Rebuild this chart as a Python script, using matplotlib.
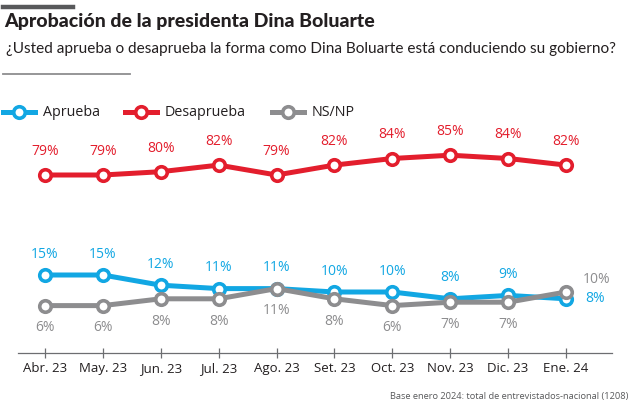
import matplotlib
matplotlib.use("Agg")
import matplotlib.pyplot as plt
from matplotlib.lines import Line2D

months = ["Abr. 23", "May. 23", "Jun. 23", "Jul. 23", "Ago. 23",
          "Set. 23", "Oct. 23", "Nov. 23", "Dic. 23", "Ene. 24"]
aprueba = [15, 15, 12, 11, 11, 10, 10, 8, 9, 8]
desaprueba = [79, 79, 80, 82, 79, 82, 84, 85, 84, 82]
nsnp = [6, 6, 8, 8, 11, 8, 6, 7, 7, 10]

BLUE = "#12a7e3"
RED = "#e31e2d"
GRAY = "#8d8d8f"
TXT = "#231f20"

W, H = 640, 407
fig = plt.figure(figsize=(W / 100, H / 100), dpi=100)

def box(x0, y0, x1, y1):
    return [x0 / W, 1 - y1 / H, (x1 - x0) / W, (y1 - y0) / H]

def fx(x):
    return x / W

def fy(y):
    return 1 - y / H

body = ["Open Sans", "DejaVu Sans"]
narrow = ["Lato", "DejaVu Sans"]

X0, X1 = 18, 612
xs = list(range(len(months)))
xlo = -(45 - X0) / 57.9
xhi = 9 + (X1 - 566) / 57.9

ax_top = fig.add_axes(box(X0, 120, X1, 210))
ax_bot = fig.add_axes(box(X0, 230, X1, 353))
for a in (ax_top, ax_bot):
    a.set_xlim(xlo, xhi)
    a.patch.set_alpha(0)
    for s in a.spines.values():
        s.set_visible(False)
ax_top.set_ylim(79 - (210 - 175) / 3.3, 79 + (175 - 120) / 3.3)
ax_bot.set_ylim(-(353 - 326) / 3.4, (326 - 230) / 3.4)
ax_top.set_xticks([])
ax_top.set_yticks([])
ax_bot.set_yticks([])
ax_bot.spines["bottom"].set_visible(True)
ax_bot.spines["bottom"].set_color("#6d6e71")
ax_bot.spines["bottom"].set_linewidth(0.9)
ax_bot.set_xticks(xs)
ax_bot.set_xticklabels(months, fontsize=9.5, color=TXT, family=body)
ax_bot.tick_params(axis="x", direction="inout", length=7, width=0.9,
                   color="#6d6e71", pad=3)

lw = 3.6
ms = 8.3
mew = 2.6

def series(a, vals, color, z):
    a.plot(xs, vals, color=color, lw=lw, marker="o", ms=ms, mew=mew,
           mfc="white", mec=color, clip_on=False, zorder=z,
           solid_joinstyle="round")

series(ax_top, desaprueba, RED, 3)
series(ax_bot, aprueba, BLUE, 3)
series(ax_bot, nsnp, GRAY, 4)

lab_fs = 10
for i, v in enumerate(desaprueba):
    ax_top.annotate(f"{v}%", (i, v), xytext=(0, 17), textcoords="offset points",
                    ha="center", va="center", color=RED, fontsize=lab_fs, family=body)
for i, v in enumerate(aprueba):
    if i == len(aprueba) - 1:
        ax_bot.annotate(f"{v}%", (i, v), xytext=(14, 0), textcoords="offset points",
                        ha="left", va="center", color=BLUE, fontsize=lab_fs, family=body)
    else:
        ax_bot.annotate(f"{v}%", (i, v), xytext=(0, 15), textcoords="offset points",
                        ha="center", va="center", color=BLUE, fontsize=lab_fs, family=body)
for i, v in enumerate(nsnp):
    if i == len(nsnp) - 1:
        ax_bot.annotate(f"{v}%", (i, v), xytext=(12, 9), textcoords="offset points",
                        ha="left", va="center", color=GRAY, fontsize=lab_fs, family=body)
    else:
        ax_bot.annotate(f"{v}%", (i, v), xytext=(0, -16), textcoords="offset points",
                        ha="center", va="center", color=GRAY, fontsize=lab_fs, family=body)

# Header decorations
fig.add_artist(Line2D([fx(3), fx(73)], [fy(6.5), fy(6.5)], color="#58595b", lw=3.2))
fig.text(fx(4), fy(21), "Aprobación de la presidenta Dina Boluarte", ha="left", va="center",
         fontsize=14, fontweight="black", color=TXT, family=narrow)
fig.text(fx(6), fy(49), "¿Usted aprueba o desaprueba la forma como Dina Boluarte está conduciendo su gobierno?",
         ha="left", va="center", fontsize=11.1, color=TXT, family=narrow)
fig.add_artist(Line2D([fx(3), fx(130)], [fy(73.5), fy(73.5)], color="#8d8d8f", lw=1.3))

# Legend
legend_items = [("Aprueba", BLUE, 3), ("Desaprueba", RED, 125), ("NS/NP", GRAY, 272)]
for name, col, x0 in legend_items:
    fig.add_artist(Line2D([fx(x0), fx(x0 + 32)], [fy(112), fy(112)], color=col, lw=lw))
    fig.add_artist(Line2D([fx(x0 + 16)], [fy(112)], color=col, marker="o", ms=ms,
                          mew=mew, mfc="white", mec=col, lw=0))
    fig.text(fx(x0 + 40), fy(112), name, ha="left", va="center", fontsize=10.3,
             color=TXT, family=body)

fig.text(fx(628), fy(397), "Base enero 2024: total de entrevistados-nacional (1208)",
         ha="right", va="center", fontsize=6.7, color="#58595b", family=body)

fig.savefig("out.png", dpi=100)
